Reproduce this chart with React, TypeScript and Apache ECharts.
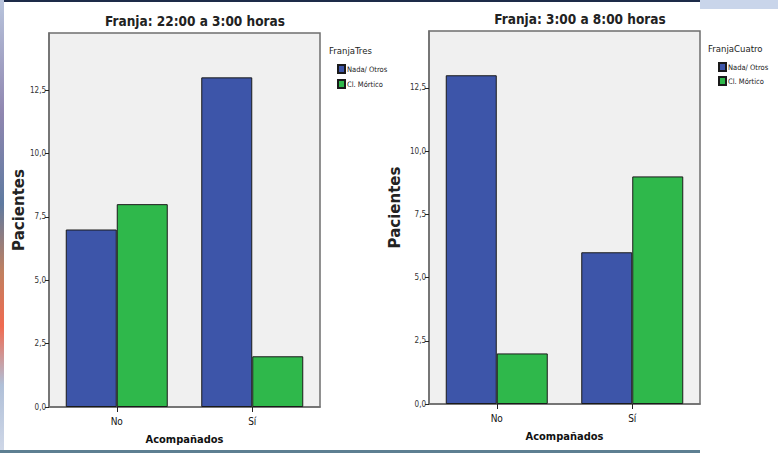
import React, { useEffect, useRef } from "react";
import * as echarts from "echarts";

const categories = ["No", "Sí"];
const seriesNames = ["Nada/ Otros", "Cl. Mórtico"];
const tresNada = [7, 13];
const tresMortico = [8, 2];
const cuatroNada = [13, 6];
const cuatroMortico = [2, 9];
const yTicks = [0, 2.5, 5, 7.5, 10, 12.5];
const titles = ["Franja: 22:00 a 3:00 horas", "Franja: 3:00 a 8:00 horas"];
const legendTitles = ["FranjaTres", "FranjaCuatro"];

const BLUE = "#3d55a9";
const GREEN = "#2fb84b";
const FONT = "'Liberation Sans Narrow', 'DejaVu Sans Condensed', Arial, sans-serif";

export default function App() {
  const ref = useRef<HTMLDivElement>(null);
  useEffect(() => {
    if (!ref.current) return;
    const chart = echarts.init(ref.current, undefined, { renderer: "svg" });
    const fmt = (v: number) => v.toFixed(1).replace(".", ",");
    const grids = [
      { left: 49, top: 33, width: 271, height: 374 },
      { left: 429, top: 31, width: 271, height: 373 },
    ];
    const xAxis = grids.map((_, i) => ({
      type: "category",
      gridIndex: i,
      data: categories,
      name: "Acompañados",
      nameLocation: "middle",
      nameGap: 27,
      nameTextStyle: { fontFamily: FONT, fontWeight: "bold", fontSize: 11, color: "#111" },
      axisLine: { show: true, lineStyle: { color: "#6e6e6e", width: 1.5 } },
      axisTick: { show: true, alignWithLabel: true, length: 5, lineStyle: { color: "#222" } },
      axisLabel: { fontFamily: FONT, fontSize: 10, color: "#111", margin: 9 },
      splitLine: { show: false },
    }));
    const yAxis = grids.map((_, i) => ({
      type: "value",
      gridIndex: i,
      min: 0,
      max: 14.75,
      interval: 2.5,
      name: "Pacientes",
      nameLocation: "middle",
      nameGap: i === 0 ? 23 : 27,
      nameTextStyle: { fontFamily: "'DejaVu Sans', Arial, sans-serif", fontWeight: "bold", fontSize: 15, color: "#222", padding: [0, 0, 0, 20] },
      axisLine: { show: true, lineStyle: { color: "#6e6e6e", width: 1.5 } },
      axisTick: { show: true, length: 4, customValues: yTicks, lineStyle: { color: "#222" } },
      axisLabel: { fontFamily: FONT, fontSize: 8, color: "#333", margin: 3, formatter: fmt, customValues: yTicks },
      splitLine: { show: false },
    }));
    const barCommon = {
      type: "bar",
      barWidth: 51,
      barGap: "0%",
      itemStyle: { borderColor: "#1a1a1a", borderWidth: 1 },
    };
    const titleStyle = { fontFamily: FONT, fontSize: 13.5, fontWeight: "bold", color: "#222" };
    const legendText = { fontFamily: FONT, fontSize: 7.5, color: "#222", padding: [0, 0, 0, -3] };
    const option: any = {
      animation: false,
      backgroundColor: "#ffffff",
      title: [
        { text: titles[0], left: 190, top: 9, textAlign: "center", textStyle: titleStyle },
        { text: titles[1], left: 575, top: 7, textAlign: "center", textStyle: titleStyle },
        { text: legendTitles[0], left: 324, top: 40, textStyle: { fontFamily: FONT, fontSize: 9.5, fontWeight: "normal", color: "#222" } },
        { text: legendTitles[1], left: 703, top: 38, textStyle: { fontFamily: FONT, fontSize: 9.5, fontWeight: "normal", color: "#222" } },
      ],
      legend: [
        { data: seriesNames, orient: "vertical", left: 332, top: 59, itemWidth: 7, itemHeight: 8, itemGap: 5, icon: "rect", selectedMode: false, textStyle: legendText },
        { data: seriesNames, orient: "vertical", left: 713, top: 57, itemWidth: 7, itemHeight: 8, itemGap: 4, icon: "rect", selectedMode: false, textStyle: legendText },
      ],
      grid: grids.map((g) => ({ ...g, show: true, backgroundColor: "#f0f0f0", borderColor: "#6e6e6e", borderWidth: 1.5, containLabel: false, outerBoundsMode: "none" })),
      xAxis,
      yAxis,
      series: [
        { ...barCommon, name: seriesNames[0], xAxisIndex: 0, yAxisIndex: 0, data: tresNada, itemStyle: { ...barCommon.itemStyle, color: BLUE } },
        { ...barCommon, name: seriesNames[1], xAxisIndex: 0, yAxisIndex: 0, data: tresMortico, itemStyle: { ...barCommon.itemStyle, color: GREEN } },
        { ...barCommon, name: seriesNames[0], xAxisIndex: 1, yAxisIndex: 1, data: cuatroNada, itemStyle: { ...barCommon.itemStyle, color: BLUE } },
        { ...barCommon, name: seriesNames[1], xAxisIndex: 1, yAxisIndex: 1, data: cuatroMortico, itemStyle: { ...barCommon.itemStyle, color: GREEN } },
      ],
      graphic: [
        { type: "rect", left: 0, top: 0, shape: { width: 700, height: 2 }, style: { fill: "#1d2b48" }, silent: true },
        { type: "rect", left: 700, top: 0, shape: { width: 78, height: 9 }, style: { fill: "#c9d5ea" }, silent: true },
        {
          type: "rect", left: 0, top: 0, shape: { width: 4, height: 453 }, silent: true,
          style: {
            fill: new echarts.graphic.LinearGradient(0, 0, 0, 1, [
              { offset: 0, color: "#b8c4dc" },
              { offset: 0.25, color: "#8f86b0" },
              { offset: 0.45, color: "#5f7aa0" },
              { offset: 0.6, color: "#c08060" },
              { offset: 0.72, color: "#f06a50" },
              { offset: 0.85, color: "#b0c0d8" },
              { offset: 1, color: "#d0d8e8" },
            ]),
          },
        },
        { type: "rect", left: 0, top: 450, shape: { width: 700, height: 3 }, style: { fill: "#5d7f92" }, silent: true },
      ],
    };
    chart.setOption(option);
    return () => chart.dispose();
  }, []);
  return <div ref={ref} style={{ position: "fixed", left: 0, top: 0, width: 778, height: 453 }} />;
}
